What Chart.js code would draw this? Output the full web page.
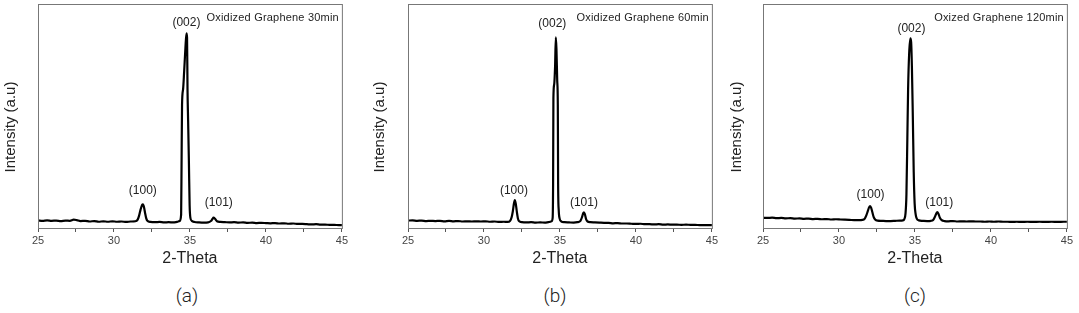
<!DOCTYPE html>
<html lang="en">
<head>
<meta charset="UTF-8">
<title>XRD - Oxidized Graphene</title>
<script src="https://cdn.jsdelivr.net/npm/chart.js"></script>
<style>
  body { margin: 0; background: #fff; width: 1079px; height: 313px; position: relative; overflow: hidden; }
  .panel { position: absolute; top: 0; }
  .tag { position: absolute; top: 284px; width: 60px; text-align: center; font: 300 19px Roboto, 'Liberation Sans', sans-serif; color: #222; }
</style>
</head>
<body>
<div class="panel" style="left:0px"><canvas id="c30" width="350" height="270"></canvas></div>
<div class="panel" style="left:370px"><canvas id="c60" width="350" height="270"></canvas></div>
<div class="panel" style="left:725px"><canvas id="c120" width="350" height="270"></canvas></div>
<div class="tag" style="left:157px">(a)</div>
<div class="tag" style="left:525px">(b)</div>
<div class="tag" style="left:885px">(c)</div>
<script>
// axis range / ticks (2-theta, degrees)
const thetaMin = 25;
const thetaMax = 45;
const thetaStep = 2.5;

// panel titles and peak names
const sampleNames = ['Oxidized Graphene 30min', 'Oxidized Graphene 60min', 'Oxized Graphene 120min'];
const peakNames = ['(100)', '(002)', '(101)'];

// [2-theta, intensity]
const scan30 = [
  [25.0,3.4],[25.3,3.2],[25.6,3.4],[25.9,3.2],[26.2,3.3],[26.5,3.1],[26.8,3.3],[27.1,3.2],[27.35,3.7],[27.55,3.5],
  [27.8,3.1],[28.1,3.2],[28.4,2.9],[28.7,3.1],[29.0,2.8],[29.3,3.0],[29.6,2.8],[29.9,3.0],[30.2,2.8],[30.5,2.9],
  [30.8,2.7],[31.1,2.9],[31.4,3.0],[31.55,3.6],[31.65,5.4],[31.75,8.2],[31.85,10.3],[31.91,10.6],[31.98,9.2],[32.05,6.6],
  [32.12,4.4],[32.2,3.2],[32.4,2.7],[32.7,2.6],[33.0,2.7],[33.3,2.5],[33.6,2.6],[33.9,2.5],[34.15,2.7],[34.33,3.2],
  [34.42,6],[34.45,30],[34.48,55],[34.55,62],[34.62,70],[34.7,80],[34.77,86.9],[34.81,85],[34.84,62],[34.88,48],
  [34.93,30],[34.98,10],[35.03,4.5],[35.12,3.2],[35.3,2.7],[35.6,2.5],[35.9,2.4],[36.2,2.5],[36.38,3.1],[36.48,4.0],
  [36.55,4.6],[36.65,4.1],[36.78,3.0],[37.0,2.7],[37.3,2.6],[37.6,2.5],[37.9,2.6],[38.2,2.4],[38.5,2.5],[38.8,2.3],
  [39.1,2.4],[39.4,2.2],[39.7,2.3],[40.0,2.2],[40.3,2.1],[40.6,2.2],[40.9,2.0],[41.2,2.1],[41.5,1.9],[41.8,2.0],
  [42.1,1.8],[42.4,1.8],[42.7,1.7],[43.0,1.6],[43.3,1.7],[43.6,1.5],[43.9,1.5],[44.2,1.4],[44.5,1.4],[44.8,1.3],[45.0,1.3]
];
const scan60 = [
  [25.0,3.3],[25.3,3.4],[25.6,3.2],[25.9,3.3],[26.2,3.1],[26.5,3.2],[26.8,3.1],[27.1,3.2],[27.4,3.0],[27.7,3.2],
  [28.0,3.0],[28.3,3.1],[28.6,2.9],[28.9,3.0],[29.2,2.9],[29.5,3.0],[29.8,2.9],[30.1,3.0],[30.4,2.8],[30.7,2.9],
  [31.0,2.7],[31.3,2.8],[31.55,2.7],[31.72,3.2],[31.82,4.8],[31.9,7.5],[31.97,10.8],[32.03,12.5],[32.09,11.0],[32.16,7.4],
  [32.23,4.4],[32.32,3.0],[32.5,2.6],[32.8,2.5],[33.1,2.6],[33.4,2.4],[33.7,2.5],[34.0,2.4],[34.25,2.6],[34.45,3.0],
  [34.52,4.5],[34.55,20],[34.57,58],[34.62,64],[34.68,72],[34.73,85.1],[34.77,80],[34.82,66],[34.86,55],[34.88,20],
  [34.92,8],[34.98,4.2],[35.08,3.0],[35.3,2.6],[35.6,2.5],[35.9,2.4],[36.15,2.6],[36.35,3.2],[36.45,4.8],[36.53,6.6],
  [36.58,7.0],[36.64,6.2],[36.72,4.0],[36.82,2.9],[37.0,2.6],[37.3,2.5],[37.6,2.4],[37.9,2.3],[38.2,2.3],[38.5,2.1],
  [38.8,2.2],[39.1,2.0],[39.4,2.0],[39.7,1.9],[40.0,1.8],[40.3,1.9],[40.6,1.7],[40.9,1.7],[41.2,1.6],[41.5,1.7],
  [41.8,1.5],[42.1,1.6],[42.4,1.5],[42.7,1.5],[43.0,1.4],[43.3,1.5],[43.6,1.4],[43.9,1.4],[44.2,1.3],[44.5,1.3],[45.0,1.3]
];
const scan120 = [
  [25.0,4.6],[25.3,4.5],[25.6,4.6],[25.9,4.4],[26.2,4.5],[26.5,4.3],[26.8,4.4],[27.1,4.2],[27.4,4.3],[27.7,4.1],
  [28.0,4.2],[28.3,4.0],[28.6,4.1],[28.9,3.9],[29.2,4.0],[29.5,3.8],[29.8,3.9],[30.1,3.8],[30.4,3.7],[30.7,3.6],
  [31.0,3.5],[31.3,3.5],[31.55,3.6],[31.7,4.2],[31.8,5.6],[31.9,7.6],[31.98,9.2],[32.05,9.8],[32.12,9.0],[32.2,7.0],
  [32.28,5.0],[32.38,3.8],[32.55,3.3],[32.8,3.2],[33.1,3.1],[33.4,3.1],[33.7,3.2],[34.0,3.3],[34.2,3.4],[34.3,4.0],
  [34.38,6.5],[34.44,15],[34.5,40],[34.55,62],[34.62,78],[34.7,84.7],[34.75,83],[34.8,72],[34.86,50],[34.92,25],
  [34.98,11],[35.05,6],[35.12,4.2],[35.25,3.4],[35.5,3.2],[35.8,3.1],[36.05,3.2],[36.2,3.6],[36.3,4.8],[36.4,6.4],
  [36.47,7.1],[36.55,6.3],[36.64,4.6],[36.76,3.5],[36.95,3.1],[37.2,3.0],[37.5,3.1],[37.8,2.9],[38.1,3.0],[38.4,2.9],
  [38.7,3.0],[39.0,2.9],[39.3,2.9],[39.6,2.8],[39.9,2.9],[40.2,2.8],[40.5,2.9],[40.8,2.8],[41.1,2.8],[41.4,2.7],
  [41.7,2.8],[42.0,2.7],[42.4,2.8],[42.8,2.7],[43.2,2.8],[43.6,2.7],[44.0,2.8],[44.4,2.7],[44.8,2.8],[45.0,2.8]
];

// where the peak names sit, [2-theta, intensity] per panel
const labelPos30 = [[31.9, 16.5], [34.77, 91.5], [36.9, 11.5]];
const labelPos60 = [[31.97, 16.5], [34.5, 91], [36.58, 11.5]];
const labelPos120 = [[32.08, 15], [34.77, 89], [36.6, 11.5]];

const FONT = "'Liberation Sans', Arial, sans-serif";

// draws frame, peak names, sample name and y title
const decorPlugin = {
  id: 'decor',
  afterDraw(chart, args, opts) {
    const { ctx, chartArea: a, scales: { x, y } } = chart;
    ctx.save();
    ctx.strokeStyle = '#777';
    ctx.lineWidth = 1;
    ctx.strokeRect(a.left + 0.5, a.top + 0.5, a.right - a.left, a.bottom - a.top);

    ctx.fillStyle = '#222';
    ctx.font = '12px ' + FONT;
    ctx.textAlign = 'center';
    ctx.textBaseline = 'middle';
    opts.labels.forEach((p, i) => ctx.fillText(peakNames[i], x.getPixelForValue(p[0]), y.getPixelForValue(p[1])));

    ctx.font = '11px ' + FONT;
    ctx.letterSpacing = '0.2px';
    ctx.textAlign = 'right';
    ctx.fillText(opts.name, a.right - 3, a.top + 14);
    ctx.letterSpacing = '0px';

    ctx.font = '15px ' + FONT;
    ctx.textAlign = 'center';
    ctx.translate(opts.ylabelX, 127);
    ctx.rotate(-Math.PI / 2);
    ctx.fillText('Intensity (a.u)', 0, 0);
    ctx.restore();
  }
};

function makeChart(id, scan, name, labels, padRight, ylabelX) {
  new Chart(document.getElementById(id), {
    type: 'scatter',
    data: {
      datasets: [{
        data: scan.map(p => ({ x: p[0], y: p[1] })),
        showLine: true,
        borderColor: '#000',
        borderWidth: 2.2,
        pointRadius: 0,
        cubicInterpolationMode: 'monotone'
      }]
    },
    options: {
      responsive: false,
      animation: false,
      layout: { padding: { left: 38, right: padRight, top: 4, bottom: 0 } },
      plugins: {
        legend: { display: false },
        tooltip: { enabled: false },
        decor: { name: name, labels: labels, ylabelX: ylabelX }
      },
      scales: {
        x: {
          type: 'linear',
          min: thetaMin,
          max: thetaMax,
          afterFit: s => { s.height = 42; },
          border: { color: '#555', width: 1 },
          grid: { drawOnChartArea: false, tickLength: 4, color: '#555' },
          ticks: {
            stepSize: thetaStep,
            autoSkip: false,
            maxRotation: 0,
            padding: 2,
            color: '#444',
            font: { family: FONT, size: 11 },
            callback: v => (v % 5 === 0 ? v : '')
          },
          title: {
            display: true,
            text: '2-Theta',
            color: '#222',
            font: { family: FONT, size: 16 },
            padding: { top: 0, bottom: 2 }
          }
        },
        y: { display: false, min: 0, max: 100 }
      }
    },
    plugins: [decorPlugin]
  });
}

makeChart('c30', scan30, sampleNames[0], labelPos30, 6, 11);
makeChart('c60', scan60, sampleNames[1], labelPos60, 8, 10);
makeChart('c120', scan120, sampleNames[2], labelPos120, 7, 12);
</script>
</body>
</html>
